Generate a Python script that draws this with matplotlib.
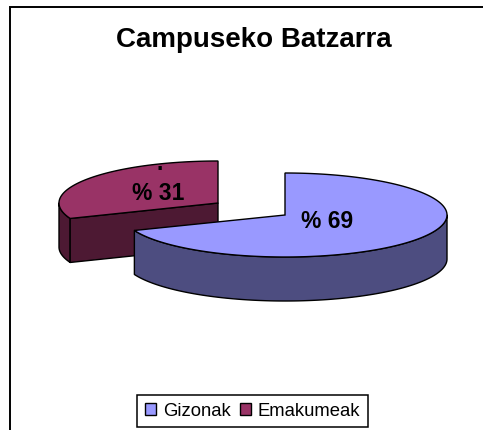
import numpy as np
import matplotlib
matplotlib.use("Agg")
import matplotlib.pyplot as plt
from matplotlib.patches import Polygon, Patch

title = "Campuseko Batzarra"
categories = ["Gizonak", "Emakumeak"]
values = [69, 31]
labels = ["% 69", "% 31"]
top_colors = ["#9999FF", "#993366"]
side_colors = ["#4D4D80", "#4D1933"]

plt.rcParams["font.family"] = ["Liberation Sans", "DejaVu Sans"]

fig = plt.figure(figsize=(4.83, 4.30), dpi=100, facecolor="white")
ax = fig.add_axes([0, 0, 1, 1])
ax.set_xlim(0, 483)
ax.set_ylim(430, 0)
ax.axis("off")

# pie geometry in pixels
centers = [(285.0, 215.0), (218.0, 203.0)]
radii_x = [162.0, 159.0]
B, DEPTH = 42.0, 44.0


def arc(cx, cy, A, t0, t1):
    t = np.radians(np.linspace(t0, t1, 200))
    return np.column_stack([cx + A * np.sin(t), cy - B * np.cos(t)])


angles = np.cumsum([0] + [v * 3.6 for v in values])
LW = 1.0
# red first, blue in front
for i in [1, 0]:
    cx, cy = centers[i]
    A = radii_x[i]
    t0, t1 = angles[i], angles[i + 1]
    down = np.array([0, DEPTH])
    apex = np.array([cx, cy])
    lo, hi = max(t0, 90), min(t1, 270)
    if hi > lo:
        a = arc(cx, cy, A, lo, hi)
        ax.add_patch(Polygon(np.vstack([a, (a + down)[::-1]]), closed=True,
                             fc=side_colors[i], ec="black", lw=LW, joinstyle="round"))
    if i == 1:
        p = arc(cx, cy, A, t0, t0)[0]
        ax.add_patch(Polygon([apex, p, p + down, apex + down], closed=True,
                             fc=side_colors[i], ec="black", lw=LW))
    a = arc(cx, cy, A, t0, t1)
    ax.add_patch(Polygon(np.vstack([apex, a]), closed=True, fc=top_colors[i],
                         ec="black", lw=LW, joinstyle="miter"))

ax.text(327.5, 221.5, labels[0], ha="center", va="center", fontsize=16.5, fontweight="bold")
ax.text(158.5, 194, labels[1], ha="center", va="center", fontsize=16.5, fontweight="bold")
ax.text(160, 164, ".", ha="center", va="center", fontsize=16.5, fontweight="bold")

ax.text(253.5, 40, title, ha="center", va="center", fontsize=20, fontweight="bold")

# frame: only top and left edges fall inside the picture
ax.plot([10, 10, 490], [440, 6.5, 6.5], color="black", lw=1.4, solid_joinstyle="miter")

handles = [Patch(fc=c, ec="black", lw=1.0) for c in top_colors]
leg = ax.legend(handles, categories, loc="center", bbox_to_anchor=(252.5, 411),
                bbox_transform=ax.transData, ncol=2, fontsize=13.3, frameon=True,
                fancybox=False, edgecolor="black", framealpha=1, handlelength=0.6,
                handleheight=0.6, handletextpad=0.35, columnspacing=0.5,
                borderpad=0.42, borderaxespad=0, labelspacing=0)
leg.get_frame().set_linewidth(1.1)

fig.savefig("out.png", dpi=100)
